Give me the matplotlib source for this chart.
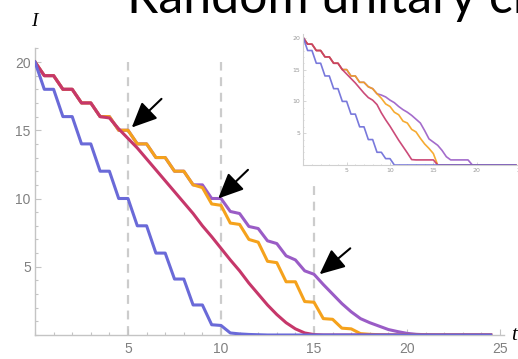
import numpy as np
import matplotlib
matplotlib.use('Agg')
import matplotlib.pyplot as plt
from matplotlib.patches import Rectangle
from matplotlib.ticker import MultipleLocator

# time grid shared by all curves (half steps)
t = np.arange(0, 25, 0.5)

# main panel
blue = [20, 18, 18, 16, 16, 14, 14, 12, 12, 10, 10, 8, 8, 6, 6, 4.1, 4.1, 2.2, 2.2, 0.75,
        0.7, 0.15, 0.08, 0.04, 0.02] + [0] * 25
red = [20, 19, 19, 18, 18, 17, 17, 16, 15.9, 15.1, 14.4, 13.7, 12.9, 12.1, 11.3, 10.5,
       9.7, 8.9, 8.0, 7.2, 6.35, 5.5, 4.7, 3.8, 3.0, 2.2, 1.5, 0.9, 0.45, 0.15, 0.03, 0] + [0] * 18
orange = [20, 19, 19, 18, 18, 17, 17, 16, 16, 15, 15, 14, 14, 13, 13, 12, 12, 11, 10.8,
          9.6, 9.5, 8.2, 8.1, 7.0, 6.8, 5.4, 5.3, 3.9, 3.9, 2.45, 2.4, 1.2, 1.15, 0.5, 0.45,
          0.1, 0.05, 0.02, 0] + [0] * 11
purple = [20, 19, 19, 18, 18, 17, 17, 16, 16, 15, 15, 14, 14, 13, 13, 12, 12, 11, 11,
          10, 10, 9.05, 8.9, 7.95, 7.8, 6.9, 6.7, 5.8, 5.5, 4.7, 4.45, 3.7, 3.0, 2.3, 1.7,
          1.2, 0.9, 0.65, 0.4, 0.25, 0.12, 0.05, 0.02, 0] + [0] * 6

# inset panel
blue_in = [20, 18, 18, 16, 16, 14, 14, 12, 12, 10, 10, 8, 8, 6, 6, 4, 4, 2, 2, 1, 1, 0] + [0] * 28
red_in = [20, 19, 19, 18, 18, 17, 17, 16, 16, 15, 14.3, 13.6, 12.9, 12.1, 11.3, 10.6, 10.2,
          9.5, 8.2, 7.1, 6.1, 5.0, 3.9, 2.9, 1.9, 0.85, 0.8, 0.8, 0.8, 0.8, 0.8, 0] + [0] * 18
orange_in = [20, 19, 19, 18, 18, 17, 17, 16, 16, 15, 15, 14, 14, 13, 13, 12.3, 12, 11.2,
             10.5, 9.6, 9.2, 8.3, 7.9, 6.9, 6.6, 5.6, 5.2, 4.2, 3.3, 2.6, 1.8, 0] + [0] * 18
purple_in = [20, 19, 19, 18, 18, 17, 17, 16, 16, 15, 15, 14, 14, 13, 13, 12.3, 12, 11.2,
             11, 10.7, 10.2, 9.8, 9.2, 8.7, 8.3, 7.8, 7.2, 6.6, 5.4, 4.1, 3.6, 3.1, 2.3, 1.3,
             0.8, 0.8, 0.8, 0.8, 0.8, 0] + [0] * 10

marked_t = [5, 10, 15]
arrow_tips = [(5.2, 15.2), (9.85, 10.0), (15.3, 4.45)]
arrow_tails = [(6.8, 17.3), (11.45, 12.1), (16.95, 6.35)]

c_blue = '#6a6ad8'
c_red = '#c6376a'
c_orange = '#f5a21c'
c_purple = '#9a5cc6'
ax_gray = '#c4c4c4'
lab_gray = '#808080'

W, H = 518, 359
fig = plt.figure(figsize=(W / 100, H / 100), dpi=100)

# main axes: x=0 at px 35, 18.6 px/unit ; y=0 at px 335, 13.65 px/unit
x0, ppx = 35, 18.6
y0, ppy = 335, 13.65
xmax, ymax = 25.2, 21.0
ax = fig.add_axes([x0 / W, (H - y0) / H, xmax * ppx / W, ymax * ppy / H])
ax.set_xlim(0, xmax)
ax.set_ylim(0, ymax)
for s in ['top', 'right']:
    ax.spines[s].set_visible(False)
for s in ['left', 'bottom']:
    ax.spines[s].set_color(ax_gray)
    ax.spines[s].set_linewidth(1.0)
ax.set_facecolor('none')
ax.xaxis.set_major_locator(MultipleLocator(5))
ax.yaxis.set_major_locator(MultipleLocator(5))
ax.xaxis.set_minor_locator(MultipleLocator(1))
ax.yaxis.set_minor_locator(MultipleLocator(1))
ax.tick_params(which='both', direction='in', color=ax_gray, labelcolor=lab_gray,
               labelsize=10, width=0.8)
ax.tick_params(which='major', length=4)
ax.tick_params(which='minor', length=2.2)
ax.tick_params(axis='x', pad=5)
ax.tick_params(axis='y', pad=3)
ax.set_xticks([5, 10, 15, 20, 25])
ax.set_yticks([5, 10, 15, 20])
for lab in ax.get_xticklabels() + ax.get_yticklabels():
    lab.set_family('Liberation Sans')

for m in marked_t:
    ax.plot([m, m], [0, 20], ls=(0, (4, 3)), color='#cccccc', lw=1.6, zorder=1)

ax.plot(t, purple, color=c_purple, lw=2.2, zorder=2, solid_joinstyle='round')
ax.plot(t, orange, color=c_orange, lw=2.2, zorder=3, solid_joinstyle='round')
ax.plot(t, red, color=c_red, lw=2.2, zorder=4, solid_joinstyle='round')
ax.plot(t, blue, color=c_blue, lw=2.2, zorder=5, solid_joinstyle='round')

for tip, tail in zip(arrow_tips, arrow_tails):
    ax.annotate('', xy=tip, xytext=tail,
                arrowprops=dict(arrowstyle='-|>,head_length=1.1,head_width=0.5',
                                mutation_scale=14, lw=1.5, color='black',
                                shrinkA=0, shrinkB=0), zorder=6)

fig.text(34 / W, 1 - 22 / H, 'I', family='Liberation Serif', style='italic',
         fontsize=14, ha='center', va='center')
fig.text(514 / W, 1 - 336 / H, 't', family='Liberation Serif', style='italic',
         fontsize=15, ha='center', va='center')

# title, cut at the top of the frame
fig.text(127 / W, 1 - 13 / H, 'Random unitary circuits', family='Lato',
         fontsize=36, ha='left', va='baseline', color='black')

# white block behind the inset
fig.patches.append(Rectangle((285 / W, (H - 181) / H), (W - 285) / W, (181 - 24) / H,
                             transform=fig.transFigure, facecolor='white',
                             edgecolor='none', zorder=1))

# inset: x=0 at px 303.3, 8.67 px/unit ; y=0 at px 165, 6.36 px/unit
ix0, ippx = 303.3, 8.67
iy0, ippy = 165, 6.36
ixmax, iymax = 25.3, 20.6
axi = fig.add_axes([ix0 / W, (H - iy0) / H, ixmax * ippx / W, iymax * ippy / H])
axi.set_zorder(2)
axi.set_facecolor('none')
axi.set_xlim(0, ixmax)
axi.set_ylim(0, iymax)
for s in ['top', 'right']:
    axi.spines[s].set_visible(False)
for s in ['left', 'bottom']:
    axi.spines[s].set_color('#d0d0d0')
    axi.spines[s].set_linewidth(0.8)
axi.xaxis.set_minor_locator(MultipleLocator(1))
axi.yaxis.set_minor_locator(MultipleLocator(1))
axi.set_xticks([5, 10, 15, 20, 25])
axi.set_yticks([5, 10, 15, 20])
axi.tick_params(which='both', direction='in', color='#d0d0d0', labelcolor='#999999',
                labelsize=4.5, width=0.6, pad=2)
axi.tick_params(which='major', length=2)
axi.tick_params(which='minor', length=1)

axi.plot(t, purple_in, color=c_purple, lw=1.2, alpha=0.9)
axi.plot(t, orange_in, color=c_orange, lw=1.2, alpha=0.9)
axi.plot(t, red_in, color=c_red, lw=1.2, alpha=0.9)
axi.plot(t, blue_in, color=c_blue, lw=1.2, alpha=0.9)

fig.savefig('out.png', dpi=100)
